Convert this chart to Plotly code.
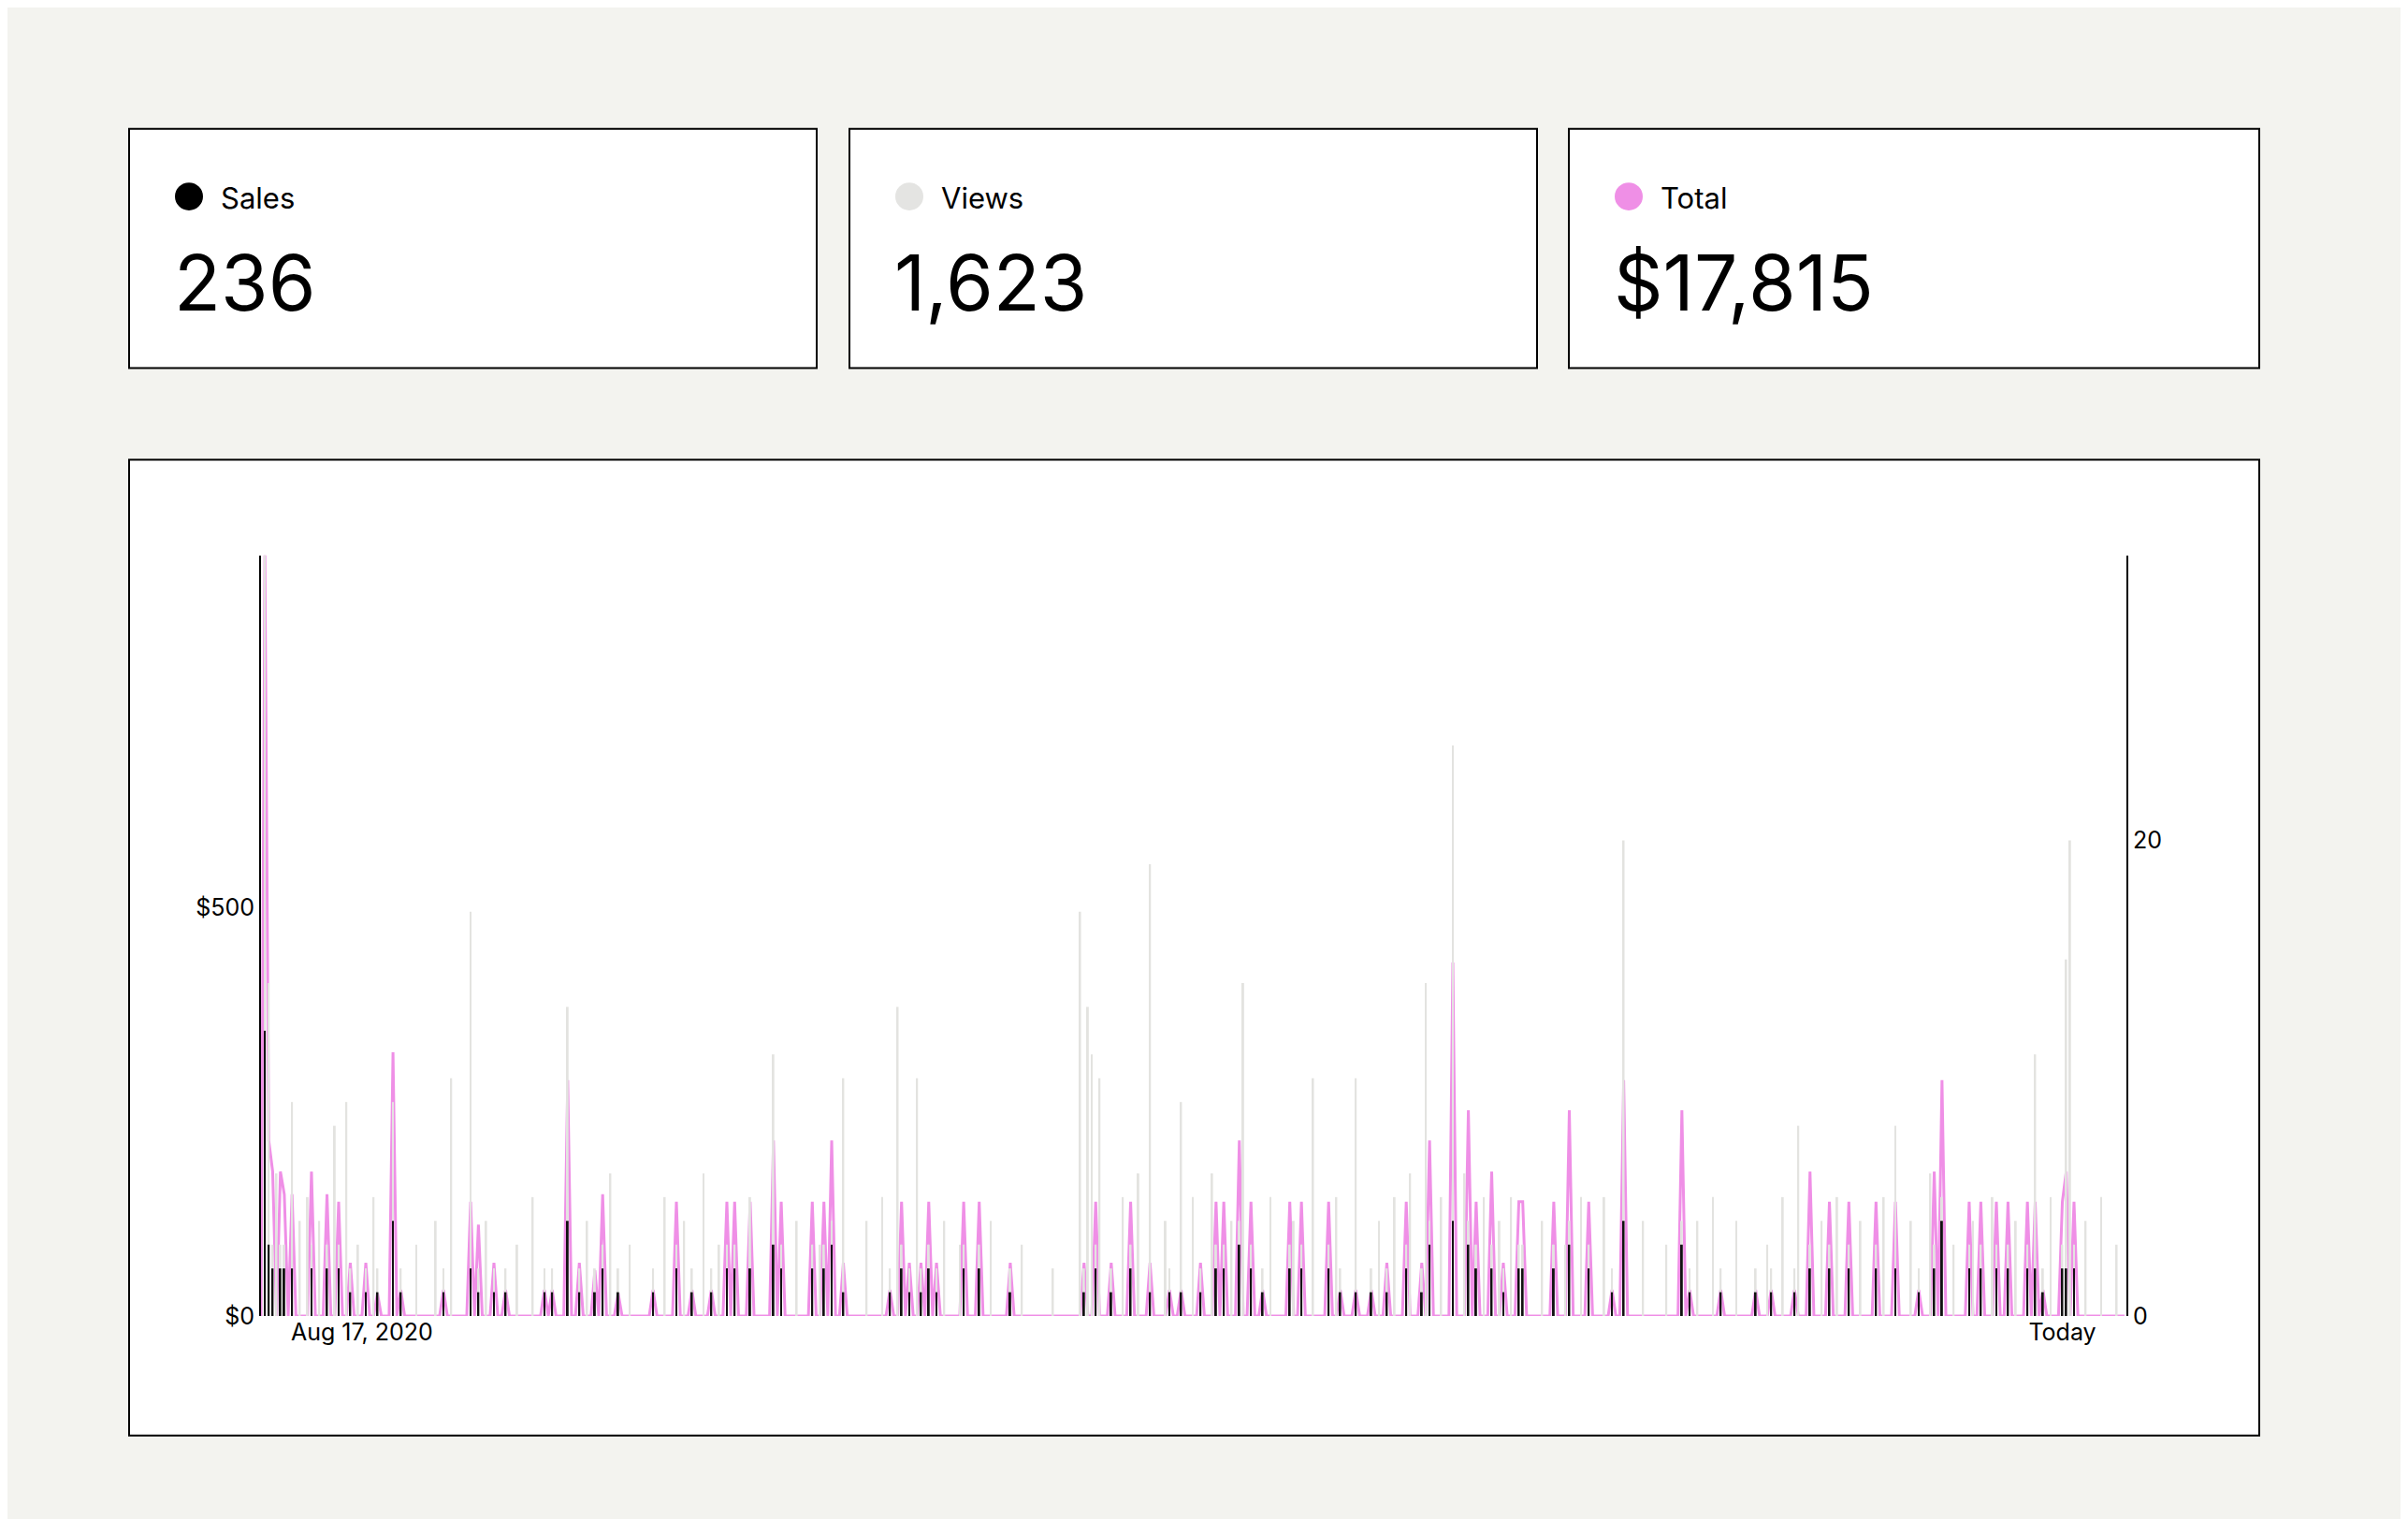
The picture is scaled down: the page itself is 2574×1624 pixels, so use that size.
import numpy as np
import plotly.graph_objects as go

N_DAYS = 481
x_tick_labels = ["Aug 17, 2020", "Today"]
x_tick_days = [26, 464]

# Total revenue ($) per day: (day, value)
total_days = [1,2,3,5,6,8,13,17,20,23,27,30,34,36,47,54,56,60,63,73,75,79,82,86,88,92,101,107,111,116,120,122,126,132,134,142,145,147,150,162,165,167,170,172,174,181,185,193,212,215,219,224,229,234,237,242,246,248,252,255,258,265,268,275,278,282,286,290,295,299,301,307,311,313,317,320,324,325,333,337,342,348,351,366,368,376,385,389,395,399,404,409,416,421,427,431,433,440,443,447,450,455,457,459,464,465,467]
total_vals = [932,215,177,177,149,149,177,149,140,65,65,28,323,32,32,140,112,65,32,32,32,289,65,56,149,28,32,140,32,32,140,140,140,215,140,140,140,215,65,32,140,65,65,140,65,140,140,65,65,140,65,140,65,32,32,65,140,140,215,140,32,140,140,140,32,32,32,65,140,65,215,433,252,140,177,65,140,140,140,252,140,32,289,252,32,32,32,32,32,177,140,140,140,140,32,177,289,140,140,140,140,140,140,32,140,177,140]
# Sales per day (same days)
sales_vals = [12,3,2,2,2,2,2,2,2,1,1,1,4,1,1,2,1,1,1,1,1,4,1,1,2,1,1,2,1,1,2,2,2,3,2,2,2,3,1,1,2,1,1,2,1,2,2,1,1,2,1,2,1,1,1,1,2,2,3,2,1,2,2,2,1,1,1,1,2,1,3,4,3,2,2,1,2,2,2,3,2,1,4,3,1,1,1,1,1,2,2,2,2,2,1,2,4,2,2,2,2,2,2,1,2,2,2]
# Views per day: (day, value)
views_days = [1,2,4,8,10,12,15,19,22,25,29,34,40,45,49,54,58,66,70,79,84,90,95,104,109,114,118,126,132,138,144,150,156,160,164,169,176,180,188,196,204,211,213,214,216,222,226,229,233,237,240,245,250,253,260,266,271,277,282,288,292,296,300,304,307,310,315,319,322,330,336,340,346,351,356,362,370,374,380,388,392,396,402,406,412,418,421,425,430,436,441,446,452,457,461,465,466,470,474,478]
views_vals = [32,14,6,9,4,5,4,8,9,3,5,9,3,4,10,17,4,3,5,13,4,6,3,5,4,6,3,5,11,4,3,10,4,5,13,10,4,3,4,3,2,17,13,11,10,5,6,19,4,9,5,6,4,14,5,4,10,5,10,4,5,6,14,5,24,6,5,4,5,4,3,5,5,20,4,3,4,5,4,3,5,8,4,5,4,5,8,4,6,3,4,5,4,11,5,15,20,4,5,3]

total = np.zeros(N_DAYS)
sales = np.zeros(N_DAYS)
views = np.zeros(N_DAYS)
for d, v in zip(total_days, total_vals):
    total[d] = v
for d, v in zip(total_days, sales_vals):
    sales[d] = v
for d, v in zip(views_days, views_vals):
    views[d] = max(views[d], v)
for d, v in zip(total_days, sales_vals):
    views[d] = max(views[d], v + 1)
days = np.arange(N_DAYS)

PINK = "#ef8fe6"
fig = go.Figure()
fig.add_trace(go.Bar(x=days, y=views, width=0.45, marker_color="#e3e3e0", marker_line_width=0, yaxis="y2"))
fig.add_trace(go.Bar(x=days, y=sales, width=0.45, marker_color="#111111", marker_line_width=0, yaxis="y2"))
fig.add_trace(go.Scatter(x=days, y=total, mode="lines", line=dict(color=PINK, width=3), yaxis="y"))

W, H = 2574, 1624
def px(x): return x / W
def py(y): return 1 - y / H

shapes = []
for x0, x1 in [(130, 865), (900, 1635), (1669, 2407)]:
    shapes.append(dict(type="rect", xref="paper", yref="paper", x0=px(x0), x1=px(x1), y0=py(389), y1=py(131),
                       fillcolor="white", line=dict(color="black", width=2), layer="below"))
shapes.append(dict(type="rect", xref="paper", yref="paper", x0=px(130), x1=px(2407), y0=py(1541), y1=py(488),
                   fillcolor="white", line=dict(color="black", width=2), layer="below"))
annotations = []
cards = [("Sales", "236", "#000000", 130), ("Views", "1,623", "#e4e4e2", 900), ("Total", "$17,815", PINK, 1669)]
for label, val, col, x0 in cards:
    cx, cy, r = x0 + 64, 204, 15
    shapes.append(dict(type="circle", xref="paper", yref="paper", x0=px(cx - r), x1=px(cx + r), y0=py(cy + r), y1=py(cy - r),
                       fillcolor=col, line=dict(width=0)))
    annotations.append(dict(x=px(x0 + 96), y=py(205), xref="paper", yref="paper", text=label, showarrow=False,
                            xanchor="left", yanchor="middle", font=dict(family="Inter", size=31, color="black")))
    annotations.append(dict(x=px(x0 + 46), y=py(297), xref="paper", yref="paper", text=val, showarrow=False,
                            xanchor="left", yanchor="middle", font=dict(family="Inter", size=82, color="black")))

fig.update_layout(
    width=W, height=H, margin=dict(l=0, r=0, t=0, b=0),
    paper_bgcolor="#f3f3ef", plot_bgcolor="rgba(0,0,0,0)",
    showlegend=False, barmode="overlay", shapes=shapes, annotations=annotations,
    font=dict(family="Inter", size=25, color="black"),
    xaxis=dict(domain=[px(271), px(2265)], range=[0, N_DAYS - 0.5], showgrid=False, zeroline=False,
               tickvals=x_tick_days, ticktext=x_tick_labels, ticks="", showline=False),
    yaxis=dict(domain=[py(1412), py(591)], range=[0, 932], tickvals=[0, 500], ticktext=["$0", "$500"],
               showgrid=False, zeroline=False, showline=True, linecolor="black", linewidth=2, ticks=""),
    yaxis2=dict(overlaying="y", side="right", range=[0, 32], tickvals=[0, 20], showgrid=False, zeroline=False,
                showline=True, linecolor="black", linewidth=2, ticks=""),
)
fig.write_html("out.html")
